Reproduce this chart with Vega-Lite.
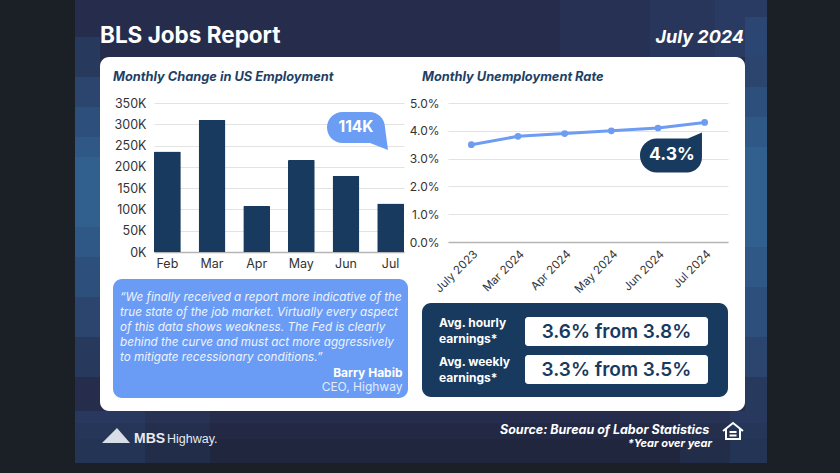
{
  "$schema": "https://vega.github.io/schema/vega-lite/v6.json",
  "width": 645,
  "height": 354,
  "autosize": {"type": "none"},
  "padding": {"left": 100, "top": 57, "right": 95, "bottom": 62},
  "background": "#262c4c",
  "view": {"fill": "#ffffff", "stroke": null, "cornerRadius": 9},
  "config": {"font": "Inter", "axis": {"labelFont": "Inter", "titleFont": "Inter"}},
  "datasets": {
    "one": [{}],
    "jobs": [
      {"month": "Feb", "jobs": 236000},
      {"month": "Mar", "jobs": 310000},
      {"month": "Apr", "jobs": 108000},
      {"month": "May", "jobs": 216000},
      {"month": "Jun", "jobs": 179000},
      {"month": "Jul", "jobs": 114000}
    ],
    "rate": [
      {"period": "July 2023", "rate": 3.5},
      {"period": "Mar 2024", "rate": 3.8},
      {"period": "Apr 2024", "rate": 3.9},
      {"period": "May 2024", "rate": 4.0},
      {"period": "Jun 2024", "rate": 4.1},
      {"period": "Jul 2024", "rate": 4.3}
    ]
  },
  "data": {"name": "one"},
  "layer": [
    {"mark": {"type": "rect", "color": "#3a7cc0", "opacity": 0.07},
     "encoding": {"x": {"value": 460}, "x2": {"value": 667}, "y": {"value": -57}, "y2": {"value": 0}}},
    {"mark": {"type": "rect", "color": "#3a7cc0", "opacity": 0.07},
     "encoding": {"x": {"value": 550}, "x2": {"value": 667}, "y": {"value": -57}, "y2": {"value": 0}}},
    {"mark": {"type": "rect", "color": "#3a7cc0", "opacity": 0.08},
     "encoding": {"x": {"value": 615}, "x2": {"value": 667}, "y": {"value": -57}, "y2": {"value": 0}}},
    {"mark": {"type": "rect", "color": "#1a1f30", "opacity": 0.25},
     "encoding": {"x": {"value": -25}, "x2": {"value": 667}, "y": {"value": 366}, "y2": {"value": 406}}},
    {"mark": {"type": "rect", "color": "#1a1f30", "opacity": 0.25},
     "encoding": {"x": {"value": -25}, "x2": {"value": 667}, "y": {"value": 382}, "y2": {"value": 406}}},
    {"mark": {"type": "rect", "color": "#2f6fa8", "opacity": 0.1},
     "encoding": {"x": {"value": -25}, "x2": {"value": 110}, "y": {"value": 354}, "y2": {"value": 406}}},
    {"mark": {"type": "rect", "color": "#2f6fa8", "opacity": 0.12},
     "encoding": {"x": {"value": -25}, "x2": {"value": 45}, "y": {"value": 354}, "y2": {"value": 406}}},
    {"mark": {"type": "rect", "color": "#2f6fa8", "opacity": 0.1},
     "encoding": {"x": {"value": 580}, "x2": {"value": 667}, "y": {"value": 354}, "y2": {"value": 406}}},
    {"mark": {"type": "rect", "color": "#2f6fa8", "opacity": 0.12},
     "encoding": {"x": {"value": 630}, "x2": {"value": 667}, "y": {"value": 354}, "y2": {"value": 406}}},

    {"mark": {"type": "rect", "color": "#3a8ccc", "opacity": 0.14},
     "encoding": {"x": {"value": -25}, "x2": {"value": 0}, "y": {"value": -20}, "y2": {"value": 320}}},
    {"mark": {"type": "rect", "color": "#3a8ccc", "opacity": 0.15},
     "encoding": {"x": {"value": -25}, "x2": {"value": 0}, "y": {"value": 20}, "y2": {"value": 280}}},
    {"mark": {"type": "rect", "color": "#3a8ccc", "opacity": 0.15},
     "encoding": {"x": {"value": -25}, "x2": {"value": 0}, "y": {"value": 50}, "y2": {"value": 240}}},
    {"mark": {"type": "rect", "color": "#3a8ccc", "opacity": 0.15},
     "encoding": {"x": {"value": -25}, "x2": {"value": 0}, "y": {"value": 80}, "y2": {"value": 200}}},
    {"mark": {"type": "rect", "color": "#45a0d6", "opacity": 0.12},
     "encoding": {"x": {"value": -25}, "x2": {"value": 0}, "y": {"value": 100}, "y2": {"value": 170}}},

    {"mark": {"type": "rect", "color": "#3a8ccc", "opacity": 0.14},
     "encoding": {"x": {"value": 645}, "x2": {"value": 667}, "y": {"value": -40}, "y2": {"value": 354}}},
    {"mark": {"type": "rect", "color": "#3a8ccc", "opacity": 0.15},
     "encoding": {"x": {"value": 645}, "x2": {"value": 667}, "y": {"value": 0}, "y2": {"value": 320}}},
    {"mark": {"type": "rect", "color": "#3a8ccc", "opacity": 0.15},
     "encoding": {"x": {"value": 645}, "x2": {"value": 667}, "y": {"value": 30}, "y2": {"value": 280}}},
    {"mark": {"type": "rect", "color": "#3a8ccc", "opacity": 0.15},
     "encoding": {"x": {"value": 645}, "x2": {"value": 667}, "y": {"value": 60}, "y2": {"value": 230}}},
    {"mark": {"type": "rect", "color": "#45a0d6", "opacity": 0.12},
     "encoding": {"x": {"value": 645}, "x2": {"value": 667}, "y": {"value": 90}, "y2": {"value": 190}}},

    {"mark": {"type": "rect", "color": "#1b1f26"},
     "encoding": {"x": {"value": -100}, "x2": {"value": -25}, "y": {"value": -57}, "y2": {"value": 416}}},
    {"mark": {"type": "rect", "color": "#1b1f26"},
     "encoding": {"x": {"value": 667}, "x2": {"value": 740}, "y": {"value": -57}, "y2": {"value": 416}}},
    {"mark": {"type": "rect", "color": "#1b1f26"},
     "encoding": {"x": {"value": -25}, "x2": {"value": 667}, "y": {"value": 406}, "y2": {"value": 416}}},

    {"mark": {"type": "text", "text": "BLS Jobs Report", "fontSize": 22.5, "fontWeight": "bold", "color": "#ffffff", "align": "left", "baseline": "alphabetic"},
     "encoding": {"x": {"value": 0}, "y": {"value": -14}}},
    {"mark": {"type": "text", "text": "July 2024", "fontSize": 18, "fontWeight": "bold", "fontStyle": "italic", "color": "#ffffff", "align": "right", "baseline": "alphabetic"},
     "encoding": {"x": {"value": 644}, "y": {"value": -14}}},
    {"mark": {"type": "text", "text": "Monthly Change in US Employment", "fontSize": 12.8, "fontWeight": "bold", "fontStyle": "italic", "color": "#1e3f66", "align": "left", "baseline": "alphabetic"},
     "encoding": {"x": {"value": 13}, "y": {"value": 24}}},
    {"mark": {"type": "text", "text": "Monthly Unemployment Rate", "fontSize": 12.8, "fontWeight": "bold", "fontStyle": "italic", "color": "#1e3f66", "align": "left", "baseline": "alphabetic"},
     "encoding": {"x": {"value": 322}, "y": {"value": 24}}},

    {"mark": {"type": "rect", "color": "#6a9cf5", "cornerRadius": 9},
     "encoding": {"x": {"value": 13}, "x2": {"value": 308}, "y": {"value": 222}, "y2": {"value": 341}}},
    {"mark": {"type": "text", "text": ["\u201cWe finally received a report more indicative of the", "true state of the job market. Virtually every aspect", "of this data shows weakness. The Fed is clearly", "behind the curve and must act more aggressively", "to mitigate recessionary conditions.\u201d"], "fontSize": 11.7, "fontStyle": "italic", "lineHeight": 15, "color": "#eef3fe", "align": "left", "baseline": "alphabetic"},
     "encoding": {"x": {"value": 20}, "y": {"value": 244}}},
    {"mark": {"type": "text", "text": "Barry Habib", "fontSize": 12, "fontWeight": "bold", "color": "#ffffff", "align": "right", "baseline": "alphabetic"},
     "encoding": {"x": {"value": 302.5}, "y": {"value": 320}}},
    {"mark": {"type": "text", "text": "CEO, Highway", "fontSize": 12, "color": "#e3ebfd", "align": "right", "baseline": "alphabetic"},
     "encoding": {"x": {"value": 302.5}, "y": {"value": 333.5}}},

    {"mark": {"type": "rect", "color": "#173a5e", "cornerRadius": 9},
     "encoding": {"x": {"value": 322}, "x2": {"value": 628}, "y": {"value": 246}, "y2": {"value": 340}}},
    {"mark": {"type": "rect", "color": "#ffffff", "cornerRadius": 3},
     "encoding": {"x": {"value": 425}, "x2": {"value": 608}, "y": {"value": 260}, "y2": {"value": 289}}},
    {"mark": {"type": "rect", "color": "#ffffff", "cornerRadius": 3},
     "encoding": {"x": {"value": 425}, "x2": {"value": 608}, "y": {"value": 298}, "y2": {"value": 327}}},
    {"mark": {"type": "text", "text": ["Avg. hourly", "earnings*"], "fontSize": 12, "fontWeight": "bold", "lineHeight": 16, "color": "#ffffff", "align": "left", "baseline": "alphabetic"},
     "encoding": {"x": {"value": 339}, "y": {"value": 270}}},
    {"mark": {"type": "text", "text": ["Avg. weekly", "earnings*"], "fontSize": 12, "fontWeight": "bold", "lineHeight": 16, "color": "#ffffff", "align": "left", "baseline": "alphabetic"},
     "encoding": {"x": {"value": 339}, "y": {"value": 309}}},
    {"mark": {"type": "text", "text": "3.6% from 3.8%", "fontSize": 19, "fontWeight": 600, "color": "#173a5e", "align": "center", "baseline": "middle"},
     "encoding": {"x": {"value": 516.5}, "y": {"value": 275}}},
    {"mark": {"type": "text", "text": "3.3% from 3.5%", "fontSize": 19, "fontWeight": 600, "color": "#173a5e", "align": "center", "baseline": "middle"},
     "encoding": {"x": {"value": 516.5}, "y": {"value": 313}}},

    {"mark": {"type": "point", "shape": "M -14 7 L 1 -8 L 14 7 Z", "size": 4, "filled": true, "opacity": 1, "color": "#d9dde6"},
     "encoding": {"x": {"value": 16}, "y": {"value": 379}}},
    {"mark": {"type": "text", "text": "MBS", "font": "Liberation Sans", "fontSize": 14, "fontWeight": "bold", "color": "#e8eaf0", "align": "left", "baseline": "alphabetic"},
     "encoding": {"x": {"value": 34}, "y": {"value": 386}}},
    {"mark": {"type": "text", "text": "Highway.", "font": "Liberation Sans", "fontSize": 12.5, "color": "#e8eaf0", "align": "left", "baseline": "alphabetic"},
     "encoding": {"x": {"value": 67}, "y": {"value": 386}}},
    {"mark": {"type": "text", "text": "Source: Bureau of Labor Statistics", "fontSize": 12.5, "fontWeight": "bold", "fontStyle": "italic", "color": "#ffffff", "align": "right", "baseline": "alphabetic"},
     "encoding": {"x": {"value": 609.3}, "y": {"value": 377}}},
    {"mark": {"type": "text", "text": "*Year over year", "fontSize": 11, "fontWeight": "bold", "fontStyle": "italic", "color": "#ffffff", "align": "right", "baseline": "alphabetic"},
     "encoding": {"x": {"value": 612}, "y": {"value": 390}}},
    {"mark": {"type": "point", "shape": "M -10 -1 L 0 -9 L 10 -1 M -7 -3 L -7 7 L 7 7 L 7 -3 M -3.5 0 L 3.5 0 M -3.5 3.5 L 3.5 3.5", "size": 4, "filled": false, "opacity": 1, "color": "#ffffff", "strokeWidth": 2},
     "encoding": {"x": {"value": 633}, "y": {"value": 375}}},

    {
      "data": {"name": "jobs"},
      "encoding": {
        "x": {"field": "month", "type": "ordinal", "sort": null,
              "scale": {"type": "band", "range": [54, 304], "paddingInner": 0.4, "paddingOuter": 0},
              "axis": {"orient": "bottom", "offset": -159, "title": null, "labelAngle": 0, "labelFontSize": 12.5, "labelColor": "#333333", "labelPadding": 5, "ticks": false, "domain": true, "domainColor": "#b5b5b5", "domainWidth": 1.5, "grid": false}},
        "y": {"field": "jobs", "type": "quantitative",
              "scale": {"domain": [0, 350000], "range": [195, 46], "nice": false},
              "axis": {"orient": "left", "offset": -54, "title": null, "values": [0, 50000, 100000, 150000, 200000, 250000, 300000, 350000], "labelExpr": "datum.value / 1000 + 'K'", "labelFontSize": 12.5, "labelColor": "#333333", "labelPadding": 8, "ticks": false, "domain": false, "grid": true, "gridColor": "#e3e3e3"}}
      },
      "layer": [
        {"mark": {"type": "bar", "color": "#173a5e", "cornerRadiusEnd": 1}},
        {"transform": [{"filter": "datum.month === 'Jul'"}],
         "mark": {"type": "point", "shape": "M -13.5 -15.5 L 13.5 -15.5 A 15.5 15.5 0 0 1 29 0 L 32 22.5 L 14 15.5 L -13.5 15.5 A 15.5 15.5 0 0 1 -13.5 -15.5 Z", "size": 4, "filled": true, "opacity": 1, "color": "#6c9df5", "xOffset": -34.6, "yOffset": -76}},
        {"transform": [{"filter": "datum.month === 'Jul'"}],
         "mark": {"type": "text", "text": "114K", "fontSize": 15.5, "fontWeight": "bold", "color": "#ffffff", "align": "center", "baseline": "middle", "xOffset": -34.6, "yOffset": -76}}
      ]
    },
    {
      "data": {"name": "rate"},
      "encoding": {
        "x": {"field": "period", "type": "ordinal", "sort": null,
              "scale": {"type": "point", "range": [348, 628], "padding": 0.5},
              "axis": {"orient": "bottom", "offset": -169, "title": null, "labelAngle": -45, "labelFontSize": 11.5, "labelColor": "#333333", "labelPadding": 6, "ticks": false, "domain": true, "domainColor": "#b5b5b5", "domainWidth": 1.5, "grid": false}},
        "y": {"field": "rate", "type": "quantitative",
              "scale": {"domain": [0, 5], "range": [185, 46], "nice": false},
              "axis": {"orient": "left", "offset": -348, "title": null, "values": [0, 1, 2, 3, 4, 5], "labelExpr": "format(datum.value, '.1f') + '%'", "labelFontSize": 12, "labelColor": "#333333", "labelPadding": 9, "ticks": false, "domain": false, "grid": true, "gridColor": "#e3e3e3"}}
      },
      "layer": [
        {"mark": {"type": "line", "color": "#6d9cf2", "strokeWidth": 3}},
        {"mark": {"type": "point", "filled": true, "size": 45, "opacity": 1, "color": "#6d9cf2"}},
        {"transform": [{"filter": "datum.period === 'Jul 2024'"}],
         "mark": {"type": "point", "shape": "M -15 -17 L 16 -17 L 30 -23 L 30 2 A 15 15 0 0 1 15 17 L -15 17 A 17 17 0 0 1 -15 -17 Z", "size": 4, "filled": true, "opacity": 1, "color": "#173a5e", "xOffset": -32.7, "yOffset": 33}},
        {"transform": [{"filter": "datum.period === 'Jul 2024'"}],
         "mark": {"type": "text", "text": "4.3%", "fontSize": 17.5, "fontWeight": "bold", "color": "#ffffff", "align": "center", "baseline": "middle", "xOffset": -32.7, "yOffset": 33}}
      ]
    }
  ],
  "resolve": {"scale": {"x": "independent", "y": "independent"}}
}
